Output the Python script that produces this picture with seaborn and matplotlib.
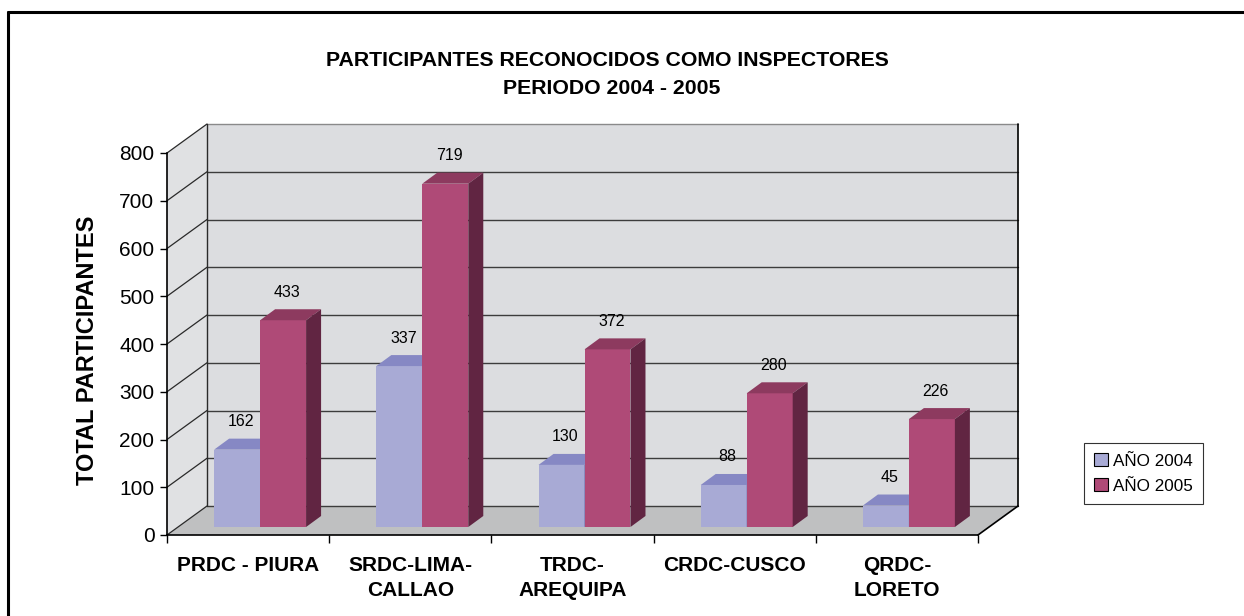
import numpy as np
import pandas as pd
import seaborn as sns
import matplotlib.pyplot as plt
from matplotlib.patches import Polygon, Patch
from matplotlib.lines import Line2D

# datos del grafico
sedes = ['PRDC - PIURA', 'SRDC-LIMA-\nCALLAO', 'TRDC-\nAREQUIPA', 'CRDC-CUSCO', 'QRDC-\nLORETO']
anio_2004 = [162, 337, 130, 88, 45]
anio_2005 = [433, 719, 372, 280, 226]
series = ['AÑO 2004', 'AÑO 2005']
y_ticks = [0, 100, 200, 300, 400, 500, 600, 700, 800]

df = pd.DataFrame({
    'sede': sedes * 2,
    'serie': [series[0]] * len(sedes) + [series[1]] * len(sedes),
    'total': anio_2004 + anio_2005,
})

sns.set_style('white')
plt.rcParams['font.family'] = ['Liberation Sans', 'DejaVu Sans']
plt.rcParams['text.color'] = 'black'
plt.rcParams['xtick.color'] = 'black'
plt.rcParams['ytick.color'] = 'black'

# colores (frente, tapa, lado)
azul = ('#a8aad5', '#8688c4', '#6d6fa8')
rojo = ('#af4a77', '#8d3a5f', '#612542')
pared = '#dcdde0'
piso = '#bfc0c1'

W, H = 1244, 616
fig = plt.figure(figsize=(W / 100, H / 100), dpi=100)
ax = fig.add_axes([167 / W, 81 / H, 811 / W, 382 / H])
ax.set_xlim(-0.5, len(sedes) - 0.5)
ax.set_ylim(0, 800)
ax.set_facecolor('none')

# pixeles por unidad
px_x = 811 / len(sedes)
px_y = 382 / 800
wdx, wdy = 40 / px_x, 29 / px_y     # profundidad de las paredes
box, boy = 12 / px_x, 8 / px_y      # desplazamiento de las barras
bdx, bdy = 15 / px_x, 11 / px_y     # profundidad de las barras

x0, x1 = -0.5, len(sedes) - 0.5
# pared trasera, pared izquierda y piso
ax.add_patch(Polygon([(x0 + wdx, wdy), (x1 + wdx, wdy), (x1 + wdx, 800 + wdy), (x0 + wdx, 800 + wdy)],
                     closed=True, fc=pared, ec='none', zorder=0.2, clip_on=False))
ax.add_patch(Polygon([(x0, 0), (x0 + wdx, wdy), (x0 + wdx, 800 + wdy), (x0, 800)],
                     closed=True, fc='#e0e1e3', ec='none', zorder=0.2, clip_on=False))
ax.add_patch(Polygon([(x0, 0), (x1, 0), (x1 + wdx, wdy), (x0 + wdx, wdy)],
                     closed=True, fc=piso, ec='none', zorder=0.3, clip_on=False))
for v in y_ticks:
    c = '#8a8a8a' if v == 800 else '#3c3c3c'
    ax.add_line(Line2D([x0 + wdx, x1 + wdx], [v + wdy, v + wdy], color=c, lw=1, zorder=0.4, clip_on=False))
    ax.add_line(Line2D([x0, x0 + wdx], [v, v + wdy], color='#2a2a2a', lw=0.9, zorder=0.4, clip_on=False))
ax.add_line(Line2D([x0 + wdx, x0 + wdx], [wdy, 800 + wdy], color='#2a2a2a', lw=1, zorder=0.4, clip_on=False))
ax.add_line(Line2D([x1 + wdx, x1 + wdx], [wdy, 800 + wdy], color='black', lw=1.2, zorder=0.4, clip_on=False))
ax.add_line(Line2D([x1, x1 + wdx], [0, wdy], color='black', lw=1.2, zorder=0.4, clip_on=False))

sns.barplot(data=df, x='sede', y='total', hue='serie', palette=[azul[0], rojo[0]],
            saturation=1, width=0.567, linewidth=0, legend=False, ax=ax)

barras = list(ax.patches)[-2 * len(sedes):]
for i, p in enumerate(barras):
    col = azul if i < len(sedes) else rojo
    z = 2.0 + (0.0 if col is azul else 0.2)
    h = p.get_height()
    p.set_x(p.get_x() + box)
    p.set_y(boy)
    p.set_zorder(z)
    p.set_clip_on(False)
    a, b = p.get_x(), p.get_x() + p.get_width()
    top = h + boy
    ax.add_patch(Polygon([(a, top), (b, top), (b + bdx, top + bdy), (a + bdx, top + bdy)],
                         closed=True, fc=col[1], ec='none', zorder=z + 0.1, clip_on=False))
    ax.add_patch(Polygon([(b, boy), (b + bdx, boy + bdy), (b + bdx, top + bdy), (b, top)],
                         closed=True, fc=col[2], ec='none', zorder=z + 0.1, clip_on=False))
    ax.text((a + b) / 2 + 4 / px_x, top + bdy + 17 / px_y, f'{h:.0f}',
            ha='center', va='center', fontsize=11.5, color='black', zorder=5)

# ejes
sns.despine(ax=ax, top=True, right=True)
for s in ['left', 'bottom']:
    ax.spines[s].set_color('black')
    ax.spines[s].set_linewidth(1.2)
ax.set_yticks(y_ticks)
ax.tick_params(axis='y', length=5, width=1, direction='out', pad=4, labelsize=15, left=True)
ax.set_xticks(range(len(sedes)))
ax.set_xticklabels(sedes, fontsize=15, fontweight='bold', linespacing=1.4)
ax.set_xticks(np.arange(-0.5, len(sedes)), minor=True)
ax.tick_params(axis='x', which='major', length=0, pad=15)
ax.tick_params(axis='x', which='minor', length=6, width=1, direction='out', bottom=True)
ax.set_xlabel('')
ax.set_ylabel('')

fig.text(88 / W, 1 - 350 / H, 'TOTAL PARTICIPANTES', rotation=90, ha='center', va='center',
         fontsize=17, fontweight='bold')
fig.text(607 / W, 1 - 61 / H, 'PARTICIPANTES RECONOCIDOS COMO INSPECTORES', ha='center', va='center',
         fontsize=15.3, fontweight='bold')
fig.text(612 / W, 1 - 88 / H, 'PERIODO 2004 - 2005', ha='center', va='center',
         fontsize=15.3, fontweight='bold')

handles = [Patch(facecolor=azul[0], edgecolor='black', lw=0.8),
           Patch(facecolor=rojo[0], edgecolor='black', lw=0.8)]
leg = fig.legend(handles, series, loc='upper left', bbox_to_anchor=(1084 / W, 1 - 443 / H),
                 frameon=True, fancybox=False, edgecolor='black', fontsize=12.3,
                 handlelength=0.8, handleheight=0.8, handletextpad=0.3,
                 borderpad=0.6, labelspacing=0.55, borderaxespad=0)
leg.get_frame().set_linewidth(0.8)

# marco exterior
fig.add_artist(Line2D([8 / W, 1], [1 - 12 / H, 1 - 12 / H], color='black', lw=2.2))
fig.add_artist(Line2D([8 / W, 8 / W], [0, 1 - 12 / H], color='black', lw=2.2))

fig.savefig('out.png', dpi=100, facecolor='white')
